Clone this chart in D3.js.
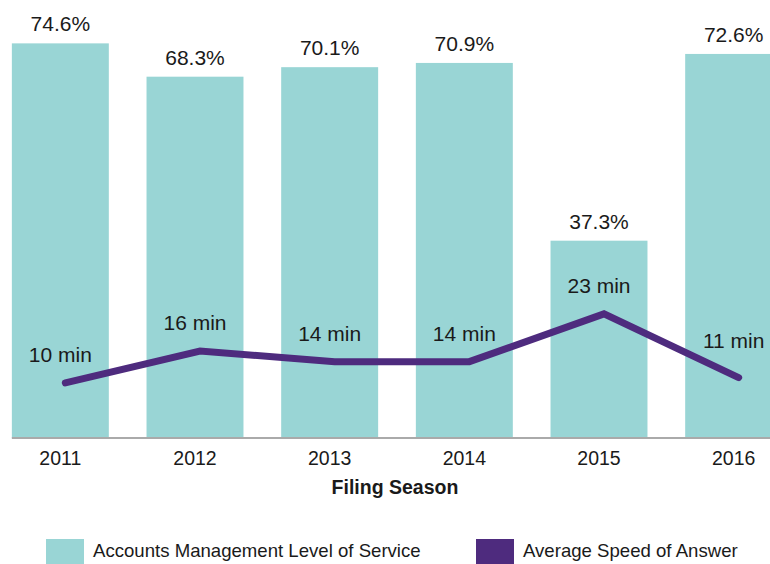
<!DOCTYPE html>
<html>
<head>
<meta charset="utf-8">
<script src="https://cdn.jsdelivr.net/npm/d3@7"></script>
<style>
  body { margin: 0; background: #fff; }
  svg text { font-family: "Liberation Sans", Arial, sans-serif; fill: #1a1a1a; }
</style>
</head>
<body>
<svg id="chart" width="770" height="564"></svg>
<script>
"use strict"

var years        = ["2011", "2012", "2013", "2014", "2015", "2016"];
var levelService = [74.6, 68.3, 70.1, 70.9, 37.3, 72.6];   // percent
var speedAnswer  = [10, 16, 14, 14, 23, 11];               // minutes
var xTitle       = "Filing Season";
var legendNames  = ["Accounts Management Level of Service", "Average Speed of Answer"];

var BARCOLOR  = "#99d5d5";
var LINECOLOR = "#4e2b7e";

var svg = d3.select("#chart");
var W = 770;
var baseY = 438;

var x = d3.scaleBand()
	.domain(years)
	.range([-7, 801])
	.paddingInner(0.28)
	.paddingOuter(0.14);

var y = d3.scaleLinear().domain([0, 80]).range([baseY, baseY - 80 * 5.29]);
// secondary axis for minutes (hidden)
var y2 = d3.scaleLinear().domain([0, 80]).range([436, 436 - 80 * 5.31]);

var rows = years.map(function(yr, i) {
	return {year: yr, pct: levelService[i], min: speedAnswer[i]};
});

// bars
svg.append("g")
  .selectAll("rect")
  .data(rows)
  .enter()
  .append("rect")
  .attr("x", function(d){ return x(d.year); })
  .attr("y", function(d){ return y(d.pct); })
  .attr("width", x.bandwidth())
  .attr("height", function(d){ return baseY - y(d.pct); })
  .style("fill", BARCOLOR);

// bar labels
svg.append("g")
  .selectAll("text")
  .data(rows)
  .enter()
  .append("text")
  .attr("x", function(d){ return x(d.year) + x.bandwidth() / 2; })
  .attr("y", function(d){ return y(d.pct) - 12; })
  .attr("text-anchor", "middle")
  .style("font-size", "21px")
  .text(function(d){ return d.pct.toFixed(1) + "%"; });

// x axis
var xAxis = svg.append("g")
  .attr("transform", "translate(0," + baseY + ")")
  .call(d3.axisBottom(x).tickSize(0));
xAxis.select(".domain").remove();
xAxis.append("line")
  .attr("x1", x(years[0]))
  .attr("x2", W)
  .attr("y1", 0)
  .attr("y2", 0)
  .style("stroke", "#aaaaaa")
  .style("stroke-width", 2);
xAxis.selectAll(".tick text")
  .attr("y", 27)
  .attr("dy", null)
  .style("font-size", "19.5px")
  .style("font-family", "'Liberation Sans', Arial, sans-serif")
  .style("fill", "#1a1a1a");

svg.append("text")
  .attr("x", 395)
  .attr("y", 494)
  .attr("text-anchor", "middle")
  .style("font-size", "19.5px")
  .style("font-weight", "bold")
  .text(xTitle);

// line
var lineShift = 5;
var line = d3.line()
	.x(function(d){ return x(d.year) + x.bandwidth() / 2 + lineShift; })
	.y(function(d){ return y2(d.min); });

svg.append("path")
  .datum(rows)
  .attr("d", line)
  .style("fill", "none")
  .style("stroke", LINECOLOR)
  .style("stroke-width", 7)
  .style("stroke-linecap", "round")
  .style("stroke-linejoin", "miter");

// line labels
svg.append("g")
  .selectAll("text")
  .data(rows)
  .enter()
  .append("text")
  .attr("x", function(d){ return x(d.year) + x.bandwidth() / 2; })
  .attr("y", function(d, i){ return y2(d.min) - (i == rows.length - 1 ? 30 : 21); })
  .attr("text-anchor", "middle")
  .style("font-size", "21px")
  .text(function(d){ return d.min + " min"; });

// legend
var legend = svg.append("g");
var legendItems = [
	{name: legendNames[0], color: BARCOLOR, x: 46},
	{name: legendNames[1], color: LINECOLOR, x: 476}
];
legend.selectAll("rect")
  .data(legendItems)
  .enter()
  .append("rect")
  .attr("x", function(d){ return d.x; })
  .attr("y", 539)
  .attr("width", 38)
  .attr("height", 30)
  .style("fill", function(d){ return d.color; });
legend.selectAll("text")
  .data(legendItems)
  .enter()
  .append("text")
  .attr("x", function(d){ return d.x + 47; })
  .attr("y", 557)
  .style("font-size", "18.6px")
  .text(function(d){ return d.name; });
</script>
</body>
</html>
